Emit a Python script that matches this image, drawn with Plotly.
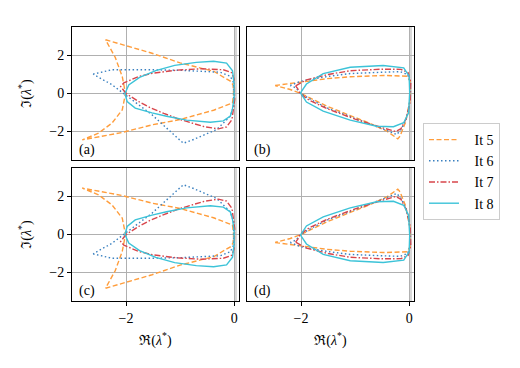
import plotly.graph_objects as go

# iteration boundaries, upper row (a) and (b); lower row is the complex conjugate
it5_a_re = [-2.38, -2.07, -1.52, -1.0, -0.38, -0.07, -0.02, -0.01, -0.03, -0.38, -1.0, -1.52, -2.07, -2.81,
            -2.51, -2.26, -2.07, -2.01, -2.07, -2.2, -2.38]
it5_a_im = [2.83, 2.56, 2.12, 1.61, 1.17, 0.65, 0.45, 0.0, -0.5, -0.88, -1.37, -1.65, -2.05, -2.44,
            -2.09, -1.56, -0.86, 0.0, 0.89, 1.9, 2.83]

it6_a_re = [-2.61, -2.26, -1.52, -1.0, -0.26, -0.07, -0.01, -0.01, -0.07, -0.32, -0.75, -0.94,
            -1.52, -1.89, -2.26, -2.61]
it6_a_im = [1.02, 1.25, 1.25, 1.22, 1.12, 0.91, 0.56, -0.67, -1.19, -1.89, -2.42, -2.62,
            -1.12, -0.33, 0.46, 1.02]

it7_a_re = [-2.0, -2.1, -2.04, -1.77, -1.5, -1.06, -0.6, -0.2, -0.04, 0.0, 0.01, -0.04, -0.14, -0.29,
            -0.55, -1.0, -1.3, -1.55, -1.77, -2.0]
it7_a_im = [0.0, 0.37, 0.56, 0.89, 1.07, 1.23, 1.3, 1.25, 1.09, 0.74, -0.32, -1.37, -1.76, -1.86,
            -1.75, -1.37, -1.05, -0.75, -0.42, 0.0]

it8_a_re = [-2.02, -1.95, -1.75, -1.45, -1.1, -0.7, -0.38, -0.14, -0.03, 0.0, 0.0, -0.03, -0.07, -0.2,
            -0.44, -0.88, -1.25, -1.52, -1.83, -1.98, -2.02]
it8_a_im = [0.0, 0.45, 0.85, 1.2, 1.48, 1.64, 1.7, 1.6, 1.2, 0.5, -0.2, -0.8, -1.19, -1.44,
            -1.51, -1.4, -1.2, -1.02, -0.77, -0.42, 0.0]

it5_b_re = [-2.48, -2.01, -1.52, -1.09, -0.48, -0.04, 0.02, 0.02, -0.07, -0.17, -0.21, -0.41, -0.78,
            -1.09, -1.52, -1.77, -2.0, -2.2, -2.48]
it5_b_im = [0.42, 0.6, 0.78, 0.88, 0.95, 0.91, 0.65, -0.32, -1.54, -2.25, -2.39, -1.98, -1.51,
            -1.16, -0.67, -0.32, 0.0, 0.21, 0.42]

it6_b_re = [-2.2, -2.0, -1.5, -1.09, -0.5, -0.17, -0.03, 0.02, 0.02, -0.05, -0.15, -0.23, -0.5,
            -1.0, -1.5, -1.8, -2.0, -2.1, -2.2]
it6_b_im = [0.42, 0.65, 0.9, 1.05, 1.12, 1.15, 1.0, 0.6, -0.3, -1.3, -1.9, -2.16, -1.85,
            -1.33, -0.78, -0.35, -0.02, 0.3, 0.42]

it7_b_re = [-2.1, -1.9, -1.5, -1.09, -0.5, -0.15, -0.02, 0.03, 0.02, -0.05, -0.15, -0.25, -0.5,
            -1.0, -1.5, -1.85, -2.02, -2.05, -2.1]
it7_b_im = [0.4, 0.72, 1.0, 1.2, 1.28, 1.27, 1.1, 0.6, -0.4, -1.3, -1.85, -2.0, -1.8,
            -1.35, -0.82, -0.35, 0.0, 0.2, 0.4]

it8_b_re = [-2.01, -1.9, -1.59, -1.09, -0.48, -0.1, 0.0, 0.01, -0.01, -0.1, -0.29, -0.6, -1.09,
            -1.59, -1.9, -2.01]
it8_b_im = [0.03, 0.5, 1.05, 1.38, 1.47, 1.35, 0.91, 0.05, -1.02, -1.54, -1.75, -1.72, -1.4,
            -0.93, -0.45, 0.03]

names = ['It 5', 'It 6', 'It 7', 'It 8']
colors = ['#ff9d3c', '#3a80c0', '#d8454b', '#3cc3d8']
dashes = ['5px,2.5px', '1.5px,2.5px', '6px,2px,1.5px,2px', 'solid']
panel_labels = ['(a)', '(b)', '(c)', '(d)']

curves_a = [(it5_a_re, it5_a_im), (it6_a_re, it6_a_im), (it7_a_re, it7_a_im), (it8_a_re, it8_a_im)]
curves_b = [(it5_b_re, it5_b_im), (it6_b_re, it6_b_im), (it7_b_re, it7_b_im), (it8_b_re, it8_b_im)]

FONT = 'Liberation Serif, DejaVu Serif, serif'
# page has an 8px body margin, so the figure is 8px smaller on each side
OFF = 8
W, H = 520 - 2 * OFF, 368 - 2 * OFF


def px_x(p):
    return (p - OFF) / W


def px_y(p):
    return 1 - (p - OFF) / H


fig = go.Figure()

panels = [
    ('x', 'y', curves_a, 1),
    ('x2', 'y2', curves_b, 1),
    ('x3', 'y3', curves_a, -1),
    ('x4', 'y4', curves_b, -1),
]

for k, (xa, ya, curves, sgn) in enumerate(panels):
    for i, (re, im) in enumerate(curves):
        fig.add_trace(go.Scatter(
            x=re, y=[sgn * v for v in im], mode='lines',
            line=dict(color=colors[i], width=1.4, dash=dashes[i]),
            name='\u00a0\u00a0\u00a0' + names[i], showlegend=(k == 0), xaxis=xa, yaxis=ya,
        ))
    fig.add_shape(type='line', xref=xa, yref=ya + ' domain', x0=0.025, x1=0.025, y0=0, y1=1,
                  line=dict(color='#d8d8d8', width=3), layer='below')
    fig.add_annotation(text=panel_labels[k], xref=xa + ' domain', yref=ya + ' domain',
                       x=0.03, y=0.0, xanchor='left', yanchor='bottom', showarrow=False,
                       font=dict(family=FONT, size=14, color='black'))

xdom = [[px_x(72), px_x(239)], [px_x(247), px_x(414)]]
ydom = [[px_y(160), px_y(27)], [px_y(301), px_y(168)]]

ax_common = dict(showline=True, mirror=True, linecolor='black', linewidth=1,
                 showgrid=True, gridcolor='#b0b0b0', gridwidth=1, zeroline=False,
                 automargin=False,
                 tickfont=dict(family=FONT, size=14, color='black'),
                 ticklen=4, tickcolor='black', tickwidth=1)

layout = {}
for k in range(4):
    r, c = divmod(k, 2)
    sfx = '' if k == 0 else str(k + 1)
    layout['xaxis' + sfx] = dict(
        ax_common, domain=xdom[c], range=[-3.0, 0.09], anchor='y' + sfx,
        tickvals=[-2, 0], ticktext=['−2', '0'],
        ticks='outside' if r == 1 else '', showticklabels=(r == 1),
        title=dict(text='ℜ(<i>λ</i><sup>*</sup>)', font=dict(family=FONT, size=14, color='black'),
                   standoff=10) if r == 1 else None,
    )
    layout['yaxis' + sfx] = dict(
        ax_common, domain=ydom[r], range=[-3.5, 3.5], anchor='x' + sfx,
        tickvals=[-2, 0, 2], ticktext=['−2', '0', '2'],
        ticks='outside' if c == 0 else '', showticklabels=(c == 0),
        title=dict(text='ℑ(<i>λ</i><sup>*</sup>)', font=dict(family=FONT, size=14, color='black'),
                   standoff=14) if c == 0 else None,
    )

fig.update_layout(
    **layout,
    width=W, height=H,
    margin=dict(l=0, r=0, t=0, b=0),
    plot_bgcolor='white', paper_bgcolor='white',
    font=dict(family=FONT, size=14, color='black'),
    legend=dict(x=px_x(423), y=px_y(123), xanchor='left', yanchor='top',
                bordercolor='#cccccc', borderwidth=1, bgcolor='white',
                font=dict(family=FONT, size=14, color='black'), tracegroupgap=2),
)

fig.write_html('out.html')
